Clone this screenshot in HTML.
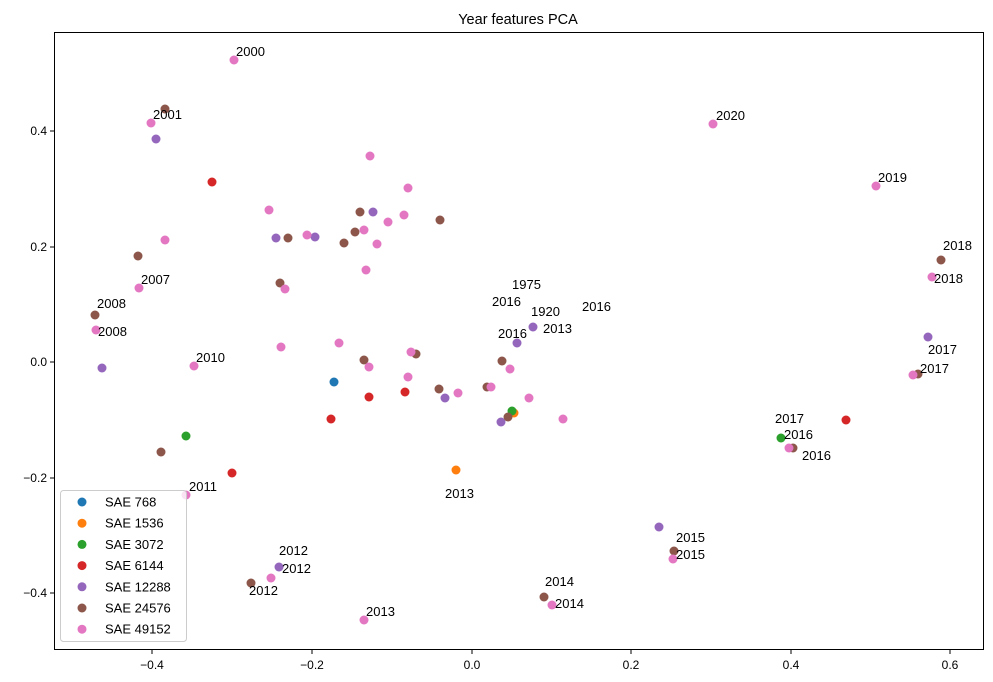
<!DOCTYPE html>
<html><head><meta charset="utf-8"><style>
body{margin:0;background:#fff}
svg{display:block;font-family:"Liberation Sans","DejaVu Sans",sans-serif}
</style></head><body>
<svg width="993" height="682" xmlns="http://www.w3.org/2000/svg">
<rect width="993" height="682" fill="#fff"/>
<text x="518" y="24" font-size="14.5" text-anchor="middle">Year features PCA</text>
<g id="pts"></g>
<rect x="54.5" y="32.5" width="929" height="617" fill="none" stroke="#000" stroke-width="1"/>
<g stroke="#000" stroke-width="1">
<line x1="152" y1="650" x2="152" y2="654"/><line x1="312" y1="650" x2="312" y2="654"/><line x1="472" y1="650" x2="472" y2="654"/><line x1="631" y1="650" x2="631" y2="654"/><line x1="791" y1="650" x2="791" y2="654"/><line x1="950" y1="650" x2="950" y2="654"/>
<line x1="50" y1="131" x2="54" y2="131"/><line x1="50" y1="247" x2="54" y2="247"/><line x1="50" y1="362" x2="54" y2="362"/><line x1="50" y1="478" x2="54" y2="478"/><line x1="50" y1="593" x2="54" y2="593"/>
</g>
<g font-size="12" text-anchor="middle">
<text x="152" y="669">−0.4</text><text x="312" y="669">−0.2</text><text x="472" y="669">0.0</text><text x="631" y="669">0.2</text><text x="791" y="669">0.4</text><text x="950" y="669">0.6</text>
</g>
<g font-size="12" text-anchor="end">
<text x="47" y="135">0.4</text><text x="47" y="251">0.2</text><text x="47" y="366">0.0</text><text x="47" y="482">−0.2</text><text x="47" y="597">−0.4</text>
</g>
<g font-size="13">
<text x="236" y="56">2000</text><text x="153" y="119">2001</text><text x="141" y="284">2007</text><text x="97" y="308">2008</text><text x="98" y="336">2008</text><text x="196" y="362">2010</text><text x="189" y="491">2011</text><text x="279" y="555">2012</text><text x="282" y="573">2012</text><text x="249" y="595">2012</text><text x="366" y="616">2013</text><text x="445" y="498">2013</text><text x="512" y="289">1975</text><text x="492" y="306">2016</text><text x="531" y="316">1920</text><text x="582" y="311">2016</text><text x="543" y="333">2013</text><text x="498" y="338">2016</text><text x="716" y="120">2020</text><text x="878" y="182">2019</text><text x="943" y="250">2018</text><text x="934" y="283">2018</text><text x="928" y="354">2017</text><text x="920" y="373">2017</text><text x="775" y="423">2017</text><text x="784" y="439">2016</text><text x="802" y="460">2016</text><text x="676" y="542">2015</text><text x="676" y="559">2015</text><text x="545" y="586">2014</text><text x="555" y="608">2014</text>
</g>
<rect x="60.5" y="490.5" width="126" height="151" rx="3" fill="#fff" fill-opacity="0.8" stroke="#ccc"/>
<g font-size="13" id="leg"></g>
<script>
var C={b:"#1f77b4",o:"#ff7f0e",g:"#2ca02c",r:"#d62728",p:"#9467bd",br:"#8c564b",pk:"#e377c2"};
var D={b:[[334,382]],o:[[456,470],[514,413]],g:[[186,436],[512,411],[781,438]],
r:[[212,182],[232,473],[331,419],[369,397],[405,392],[846,420]],
p:[[156,139],[102,368],[276,238],[315,237],[373,212],[517,343],[533,327],[445,398],[501,422],[659,527],[279,567],[928,337]],
br:[[165,109],[138,256],[95,315],[161,452],[280,283],[288,238],[344,243],[355,232],[360,212],[440,220],[364,360],[416,354],[439,389],[487,387],[502,361],[508,417],[918,374],[941,260],[793,448],[674,551],[544,597],[251,583]],
pk:[[234,60],[151,123],[165,240],[139,288],[96,330],[194,366],[186,495],[271,578],[364,620],[552,605],[673,559],[789,448],[913,375],[932,277],[876,186],[713,124],[370,156],[408,188],[269,210],[307,235],[364,230],[377,244],[388,222],[404,215],[366,270],[285,289],[281,347],[339,343],[369,367],[411,352],[408,377],[458,393],[491,387],[510,369],[529,398],[563,419]]};
var ns="http://www.w3.org/2000/svg",g=document.getElementById("pts");
for(var k in D)D[k].forEach(function(p){var c=document.createElementNS(ns,"circle");c.setAttribute("cx",p[0]);c.setAttribute("cy",p[1]);c.setAttribute("r",4.5);c.setAttribute("fill",C[k]);g.appendChild(c);});
var L=[["b","SAE 768"],["o","SAE 1536"],["g","SAE 3072"],["r","SAE 6144"],["p","SAE 12288"],["br","SAE 24576"],["pk","SAE 49152"]],lg=document.getElementById("leg");
L.forEach(function(e,i){var y=502+i*21.2;var c=document.createElementNS(ns,"circle");c.setAttribute("cx",82);c.setAttribute("cy",y);c.setAttribute("r",4.5);c.setAttribute("fill",C[e[0]]);lg.appendChild(c);var t=document.createElementNS(ns,"text");t.setAttribute("x",105);t.setAttribute("y",y+4.5);t.textContent=e[1];lg.appendChild(t);});
</script>
</svg>
</body></html>
